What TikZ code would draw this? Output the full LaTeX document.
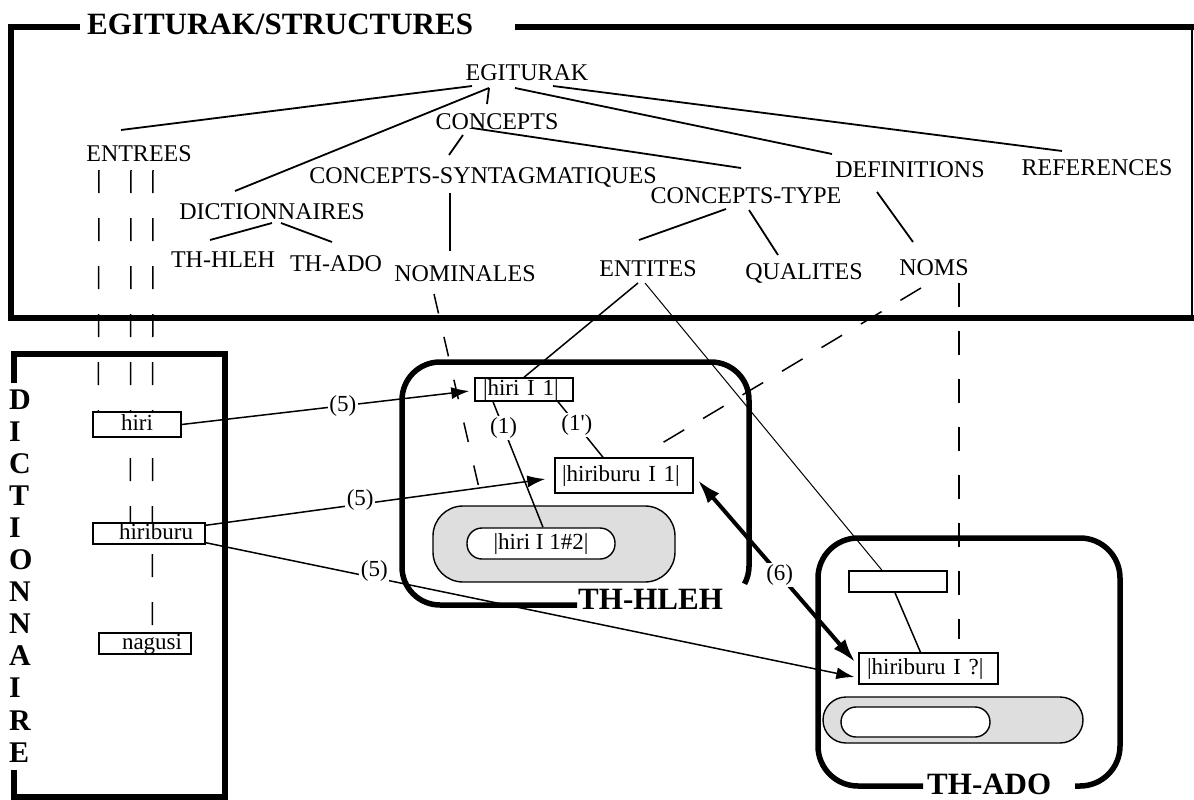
\documentclass[tikz,border=0pt]{standalone}
\usepackage{fontspec}
\setmainfont{Liberation Serif}
\usetikzlibrary{arrows.meta}
\newcommand\myfs[1]{\fontsize{#1pt}{#1pt}\selectfont}
\pgfdeclarelayer{frames}
\pgfdeclarelayer{lines}
\pgfsetlayers{frames,lines,main}
\begin{document}
\begin{tikzpicture}[x=1pt,y=-1pt,
 lab/.style={font=\myfs{24}, inner sep=0pt, text height=16pt, text depth=0pt},
 ttl/.style={font=\bfseries\myfs{31}, inner sep=0pt, anchor=base west},
 letter/.style={font=\bfseries\myfs{30}, inner sep=0pt, text height=20pt, text depth=0pt, anchor=west},
 frame/.style={line width=5.5pt},
 tree/.style={line width=1.8pt},
 box/.style={draw, line width=1.4pt, fill=white, inner sep=0pt, font=\myfs{23}, text height=16pt, text depth=4pt, align=left},
 grey/.style={draw, line width=1.4pt, fill=black!13, inner sep=0pt, rounded corners=#1},
 oval/.style={draw, line width=1.4pt, fill=white, inner sep=0pt, font=\myfs{23}, text height=16pt, text depth=4pt, rounded corners=#1},
 dsh/.style={line width=1.5pt, dash pattern=on 23pt off 25pt},
 thin/.style={line width=1.5pt},
 arr/.style={line width=1.5pt, -{Latex[length=18pt,width=12pt]}},
 bigarr/.style={line width=4pt, {Latex[length=24pt,width=15pt]}-{Latex[length=24pt,width=15pt]}},
 num/.style={font=\myfs{23}, fill=white, inner sep=1.5pt},
]
\useasboundingbox (0,0) rectangle (1194,800);

% ---------- frames ----------
\begin{pgfonlayer}{frames}
\draw[frame] (80,27) -- (11,27) -- (11,318) -- (1194,318);
\draw[frame] (515,27) -- (1194,27);
\draw[line width=2pt] (1192,27) -- (1192,318);
\draw[frame] (14,383) -- (14,354) -- (225,354) -- (225,797) -- (14,797) -- (14,770);
\draw[frame, rounded corners=38pt] (577,605) -- (402,605) -- (402,362) -- (749,362) -- (749,567);
\draw[frame] (749,566) arc[start angle=0, end angle=28, radius=38];
\draw[frame, rounded corners=40pt] (923,786) -- (818,786) -- (818,538) -- (1120,538) -- (1120,786) -- (1075,786);
\node[grey=30pt, minimum width=242pt, minimum height=76pt] (g1) at (554,544) {};
\node[grey=23pt, minimum width=260pt, minimum height=46pt] (g2) at (953,720) {};
\end{pgfonlayer}

% ---------- titles ----------
\node[ttl] (title) at (87,35) {EGITURAK/STRUCTURES};
\node[ttl] (tHLEH) at (578,609) {TH-HLEH};
\node[ttl] (tADO) at (927,794) {TH-ADO};
\foreach \l [count=\i] in {D,I,C,T,I,O,N,N,A,I,R,E}
  \node[letter] (d\i) at (9,{399+32.1*(\i-1)}) {\l};

% ---------- tree labels ----------
\node[lab] (EG) at (527,73) {EGITURAK};
\node[lab] (CON) at (497,121) {CONCEPTS};
\node[lab] (ENT) at (139,153) {ENTREES};
\node[lab] (CSY) at (483,175) {CONCEPTS-SYNTAGMATIQUES};
\node[lab] (DEF) at (910,169) {DEFINITIONS};
\node[lab] (REF) at (1097,167) {REFERENCES};
\node[lab] (DIC) at (272,211) {DICTIONNAIRES};
\node[lab] (CTY) at (746,195) {CONCEPTS-TYPE};
\node[lab] (THH) at (223,259) {TH-HLEH};
\node[lab] (THA) at (336,263) {TH-ADO};
\node[lab] (NOMI) at (465,273) {NOMINALES};
\node[lab] (ENTI) at (648,268) {ENTITES};
\node[lab] (QUA) at (804,271) {QUALITES};
\node[lab] (NOMS) at (934,267) {NOMS};

% ---------- boxes ----------
\node[box, align=center, text width=88pt, minimum height=25pt] (b1) at (137,424.5) {hiri};
\node[box, text width=112pt, minimum height=21pt] (b2) at (149,533.5) {\hspace*{26pt}hiriburu};
\node[box, text width=92pt, minimum height=21pt] (b3) at (145,643.5) {\hspace*{23pt}nagusi};
\node[box, text width=98pt, minimum height=23pt] (h1) at (524,389.5) {\hspace*{8pt}|hiri I 1|};
\node[box, text width=138pt, minimum height=35pt] (h2) at (624,475.5) {\hspace*{7pt}|hiriburu I 1|};
\node[box, text width=139pt, minimum height=31pt] (h3) at (928.5,668.5) {\hspace*{8pt}|hiriburu I ?|};
\node[box, text width=98pt, minimum height=21pt] (e1) at (898,581.5) {};
\node[oval=15pt, align=center, minimum width=148pt, minimum height=31pt] (o1) at (541,543.5) {|hiri I 1\#2|};
\node[oval=15pt, minimum width=149pt, minimum height=30pt] (o2) at (915.5,722) {};

% ---------- connectors ----------
\begin{pgfonlayer}{lines}
\draw[tree] ([shift={(-55,13)}]EG.center) -- ([shift={(-18,-23)}]ENT.center);
\draw[tree] ([shift={(-38,15)}]EG.center) -- ([shift={(-37,-20)}]DIC.center);
\draw[tree] ([shift={(-38,15)}]EG.center) -- ([shift={(-10,-17)}]CON.center);
\draw[tree] ([shift={(-12,15)}]EG.center) -- ([shift={(-78,-15)}]DEF.center);
\draw[tree] ([shift={(26,13)}]EG.center) -- ([shift={(-35,-16)}]REF.center);
\draw[tree] ([shift={(-34,14)}]CON.center) -- ([shift={(-34,-20)}]CSY.center);
\draw[tree] ([shift={(-25,7)}]CON.center) -- ([shift={(-5,-27)}]CTY.center);
\draw[tree] ([shift={(0,12)}]DIC.center) -- ([shift={(-13,-19)}]THH.center);
\draw[tree] ([shift={(9,12)}]DIC.center) -- ([shift={(-4,-21)}]THA.center);
\draw[tree] ([shift={(-33,18)}]CSY.center) -- ([shift={(-15,-22)}]NOMI.center);
\draw[tree] ([shift={(-20,14)}]CTY.center) -- ([shift={(-9,-28)}]ENTI.center);
\draw[tree] ([shift={(3,15)}]CTY.center) -- ([shift={(-26,-16)}]QUA.center);
\draw[tree] ([shift={(-33,23)}]DEF.center) -- ([shift={(-21,-25)}]NOMS.center);

\draw[dsh] ([shift={(-40,17)}]ENT.center) -- ([shift={(6,0)}]b1.north west);
\draw[dsh] ([shift={(-8,17)}]ENT.center) -- ([shift={(38,0)}]b2.north west);
\draw[dsh] ([shift={(14,17)}]ENT.center) -- ([shift={(54,0)}]b3.north west);

\draw[dsh, dash pattern=on 20pt off 24pt] ([shift={(-31,21)}]NOMI.center) -- ([shift={(-71,0)}]g1.north);
\draw[thin] ([shift={(-10,15)}]ENTI.center) -- (h1.north);
\draw[line width=1pt] ([shift={(-3,15)}]ENTI.center) -- ([shift={(-16,0)}]e1.north);
\draw[dsh, dash pattern=on 24pt off 22pt] ([shift={(-13,21)}]NOMS.center) -- ([shift={(31,-10)}]h2.north);
\draw[dsh, dash pattern=on 24pt off 24pt] ([shift={(25,16)}]NOMS.center) -- ([shift={(30.5,-13)}]h3.north);
\draw[thin] ([shift={(-3,0)}]e1.south) -- ([shift={(-8,0)}]h3.north);

\draw[thin] ([shift={(-31,0)}]h1.south) -- node[num, pos=0.21] (n1) {(1)} ([shift={(2,0)}]o1.north);
\draw[thin] ([shift={(34,0)}]h1.south) -- node[num, pos=0.42] (n1p) {(1\textquotesingle)} ([shift={(-21,0)}]h2.north);

\draw[arr] (b1.east) -- node[num, pos=0.56] (n5a) {(5)} ([shift={(-5,1.5)}]h1.west);
\draw[arr] ([shift={(0,3)}]b2.north east) -- node[num, pos=0.455, shift={(0,-4)}] (n5b) {(5)} ([shift={(-9,3.5)}]h2.west);
\draw[arr] ([shift={(0,-2)}]b2.south east) -- node[num, pos=0.26, shift={(0,-7)}] (n5c) {(5)} ([shift={(-4,8.5)}]h3.west);
\draw[bigarr] ([shift={(4,4.5)}]h2.east) -- node[num, pos=0.52] (n6) {(6)} ([shift={(-3,10)}]h3.north west);
\end{pgfonlayer}
\end{tikzpicture}
\end{document}
